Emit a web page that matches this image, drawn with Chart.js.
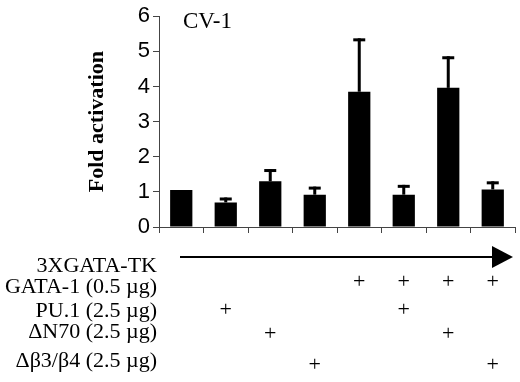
<!doctype html>
<html lang="en">
<head>
<meta charset="utf-8">
<script src="https://cdn.jsdelivr.net/npm/chart.js"></script>
<style>
  html, body { margin: 0; padding: 0; background: #fff; }
</style>
</head>
<body>
<canvas id="chart1" width="520" height="382"></canvas>
<script>
// lanes of the reporter assay (x categories)
const lanes = ['1', '2', '3', '4', '5', '6', '7', '8'];
// fold activation (bar height) and top of the error bar
const foldActivation = [1.05, 0.70, 1.30, 0.92, 3.85, 0.92, 3.96, 1.07];
const errorTop = [1.05, 0.84, 1.65, 1.15, 5.37, 1.20, 4.86, 1.30];
const yTicks = [0, 1, 2, 3, 4, 5, 6];

// transfection table under the chart
const reporterLabel = '3XGATA-TK';
const rowLabels = ['GATA-1 (0.5 µg)', 'PU.1 (2.5 µg)', 'ΔN70 (2.5 µg)', 'Δβ3/β4 (2.5 µg)'];
const gata1 = [0, 0, 0, 0, 1, 1, 1, 1];
const pu1 = [0, 1, 0, 0, 0, 1, 0, 0];
const dN70 = [0, 0, 1, 0, 0, 0, 1, 0];
const dB3B4 = [0, 0, 0, 1, 0, 0, 0, 1];
const rows = [gata1, pu1, dN70, dB3B4];

const serif = '"Liberation Serif", "Times New Roman", serif';

// draws error bars, panel label, arrow and the +/- table
const extras = {
  id: 'extras',
  afterDatasetsDraw(chart) {
    const ctx = chart.ctx;
    const xs = chart.scales.x, ys = chart.scales.y;
    ctx.save();
    ctx.fillStyle = '#000';
    ctx.strokeStyle = '#000';

    // error bars (upper only)
    foldActivation.forEach((v, i) => {
      const x = xs.getPixelForValue(i);
      const y0 = ys.getPixelForValue(v);
      const y1 = ys.getPixelForValue(errorTop[i]);
      if (y0 - y1 < 1) return;
      ctx.fillRect(x - 1.5, y1, 3, y0 - y1);
      ctx.fillRect(x - 6, y1, 12, 3);
    });

    // panel label
    ctx.font = '23px ' + serif;
    ctx.textAlign = 'left';
    ctx.textBaseline = 'alphabetic';
    ctx.fillText('CV-1', 183, 28);

    // arrow for the reporter
    const ay = 257;
    const ax0 = xs.left + 21, ax1 = chart.chartArea.right - 2;
    ctx.lineWidth = 2;
    ctx.beginPath();
    ctx.moveTo(ax0, ay);
    ctx.lineTo(ax1 - 18, ay);
    ctx.stroke();
    ctx.beginPath();
    ctx.moveTo(ax1 - 21, ay - 11);
    ctx.lineTo(ax1, ay);
    ctx.lineTo(ax1 - 21, ay + 11);
    ctx.closePath();
    ctx.fill();

    // row labels
    ctx.font = '22px ' + serif;
    ctx.textAlign = 'right';
    ctx.fillText(reporterLabel, 157, 272);
    const labelBase = [293, 317, 338, 367];
    rowLabels.forEach((t, r) => ctx.fillText(t, 157, labelBase[r]));

    // plus signs
    const plusMid = [283, 311, 335, 366];
    ctx.textAlign = 'center';
    rows.forEach((row, r) => {
      row.forEach((on, i) => {
        if (on) ctx.fillText('+', xs.getPixelForValue(i), plusMid[r] + 5);
      });
    });
    ctx.restore();
  }
};

new Chart(document.getElementById('chart1'), {
  type: 'bar',
  data: {
    labels: lanes,
    datasets: [{
      data: foldActivation,
      backgroundColor: '#000',
      borderWidth: 0,
      barPercentage: 0.5,
      categoryPercentage: 1.0
    }]
  },
  options: {
    responsive: false,
    animation: false,
    devicePixelRatio: 1,
    layout: { padding: { top: 11, right: 5, left: 0, bottom: 0 } },
    plugins: { legend: { display: false }, tooltip: { enabled: false } },
    scales: {
      x: {
        ticks: { display: false },
        grid: { drawOnChartArea: false, drawTicks: true, tickLength: 6, color: '#444', offset: true },
        border: { color: '#444', width: 1 },
        afterFit: s => { s.height = 155; }
      },
      y: {
        min: 0,
        max: 6,
        afterBuildTicks: s => { s.ticks = yTicks.map(v => ({ value: v })); },
        ticks: {
          color: '#000',
          padding: 3,
          font: { family: '"Liberation Sans", Arial, sans-serif', size: 22 }
        },
        grid: { drawOnChartArea: false, drawTicks: true, tickLength: 6, color: '#444' },
        border: { color: '#444', width: 1 },
        title: {
          display: true,
          text: 'Fold activation',
          color: '#000',
          font: { family: serif, size: 22, weight: 'bold' },
          padding: { top: 84, bottom: 0 }
        },
        afterFit: s => { s.width = 159; }
      }
    }
  },
  plugins: [extras]
});
</script>
</body>
</html>
